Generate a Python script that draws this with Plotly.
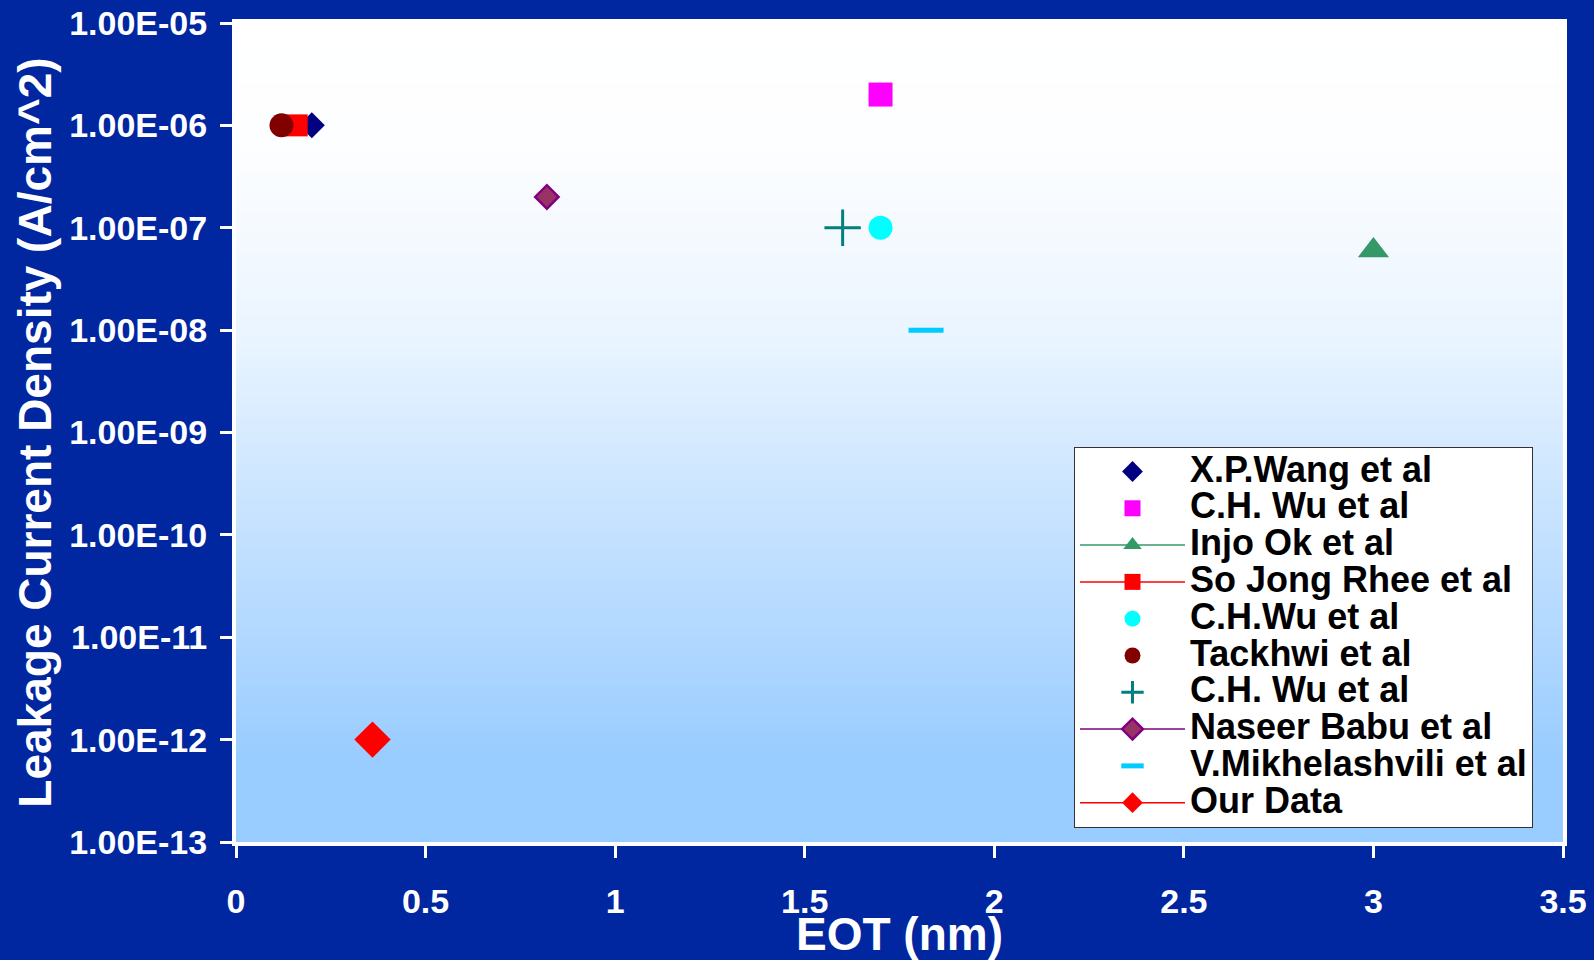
import plotly.graph_objects as go

# ---------------- data ----------------
series_names = ["X.P.Wang et al", "C.H. Wu et al", "Injo Ok et al", "So Jong Rhee et al",
                "C.H.Wu et al", "Tackhwi et al", "C.H. Wu et al", "Naseer Babu et al",
                "V.Mikhelashvili et al", "Our Data"]
eot_nm = [0.20, 1.70, 3.00, 0.16, 1.70, 0.12, 1.60, 0.82, 1.82, 0.36]
leakage = [1e-6, 2e-6, 6e-8, 1e-6, 1e-7, 1e-6, 1e-7, 2e-7, 1e-8, 1e-12]

x_tickvals = [0, 0.5, 1, 1.5, 2, 2.5, 3, 3.5]
x_ticktext = ["0", "0.5", "1", "1.5", "2", "2.5", "3", "3.5"]
y_tickvals = [1e-13, 1e-12, 1e-11, 1e-10, 1e-9, 1e-8, 1e-7, 1e-6, 1e-5]
y_ticktext = ["1.00E-13", "1.00E-12", "1.00E-11", "1.00E-10", "1.00E-09",
              "1.00E-08", "1.00E-07", "1.00E-06", "1.00E-05"]

# ---------------- styles ----------------
styles = [
    dict(mode="markers", symbol="diamond", size=20, color="#000080", lc="#000080", lw=0),
    dict(mode="markers", symbol="square", size=24, color="#FF00FF", lc="#FF00FF", lw=0),
    dict(mode="lines+markers", symbol="triangle-up", size=27, color="#339966", lc="#339966", lw=0),
    dict(mode="lines+markers", symbol="square", size=22, color="#FF0000", lc="#FF0000", lw=0),
    dict(mode="markers", symbol="circle", size=24, color="#00FFFF", lc="#00FFFF", lw=0),
    dict(mode="markers", symbol="circle", size=24, color="#800000", lc="#800000", lw=0),
    dict(mode="markers", symbol="cross-thin-open", size=26, color="#008080", lc="#008080", lw=3),
    dict(mode="lines+markers", symbol="diamond", size=18, color="#993366", lc="#800080", lw=2.5),
    dict(mode="markers", symbol="line-ew-open", size=25, color="#00CCFF", lc="#00CCFF", lw=5),
    dict(mode="lines+markers", symbol="diamond", size=28, color="#FF0000", lc="#FF0000", lw=0),
]
line_colors = [None, None, "#339966", "#FF0000", None, None, None, "#800080", None, "#FF0000"]

FONT = "Liberation Sans, Arial, sans-serif"
BG = "#0026A0"

fig = go.Figure()
for name, xv, yv, st, lcol in zip(series_names, eot_nm, leakage, styles, line_colors):
    fig.add_trace(go.Scatter(
        x=[xv], y=[yv], mode=st["mode"],
        name="<span style='font-size:36px'>" + name + "</span>",
        marker=dict(symbol=st["symbol"], size=st["size"], color=st["color"],
                    line=dict(color=st["lc"], width=st["lw"])),
        line=dict(color=lcol if lcol else st["color"], width=1.5),
    ))

# vertical gradient background of the plot area
stops = [(0.0, 0.0), (0.15, 0.02), (0.38, 0.2), (0.57, 0.5), (0.76, 0.78), (0.9, 1.0), (1.0, 1.0)]
def frac(t):
    for (t0, f0), (t1, f1) in zip(stops[:-1], stops[1:]):
        if t0 <= t <= t1:
            return f0 + (f1 - f0) * (t - t0) / (t1 - t0)
    return 1.0
top_c = (255, 255, 255)
bot_c = (153, 204, 255)
n = 120
shapes = []
for i in range(n):
    t = (i + 0.5) / n  # from top
    f = frac(t)
    c = tuple(round(a + (b - a) * f) for a, b in zip(top_c, bot_c))
    shapes.append(dict(type="rect", xref="x domain", yref="y domain",
                       x0=0, x1=1, y0=1 - (i + 1) / n, y1=1 - i / n + 0.002,
                       fillcolor="rgb(%d,%d,%d)" % c, line=dict(width=0), layer="below"))

fig.update_layout(
    width=1594, height=960, autosize=False,
    margin=dict(l=236, r=31, t=23, b=118),
    paper_bgcolor=BG, plot_bgcolor="white",
    shapes=shapes,
    showlegend=True,
    legend=dict(x=0.6315, y=0.017, xanchor="left", yanchor="bottom",
                bgcolor="white", bordercolor="#333333", borderwidth=1,
                font=dict(family=FONT, size=26, color="black", weight="bold"),
                itemwidth=105, tracegroupgap=0),
    font=dict(family=FONT, color="white"),
)
fig.update_xaxes(
    range=[0, 3.5], tickvals=x_tickvals, ticktext=x_ticktext,
    showgrid=False, zeroline=False, automargin=False,
    showline=True, linecolor="white", linewidth=4, mirror=True,
    ticks="outside", ticklen=12, tickwidth=3, tickcolor="white",
    tickfont=dict(family=FONT, size=34, color="white", weight="bold"),
    ticklabelstandoff=14,
    title=dict(text="EOT (nm)", font=dict(family=FONT, size=46, color="white", weight="bold"),
               standoff=3),
)
fig.update_yaxes(
    type="log", range=[-13, -5], tickvals=y_tickvals, ticktext=y_ticktext,
    showgrid=False, zeroline=False, automargin=False,
    showline=True, linecolor="white", linewidth=4, mirror=True,
    ticks="outside", ticklen=12, tickwidth=3, tickcolor="white",
    tickfont=dict(family=FONT, size=34, color="white", weight="bold"),
    ticklabelstandoff=6,
    title=dict(text="Leakage Current Density (A/cm^2)",
               font=dict(family=FONT, size=46, color="white", weight="bold"), standoff=4),
)

fig.write_html("out.html")
